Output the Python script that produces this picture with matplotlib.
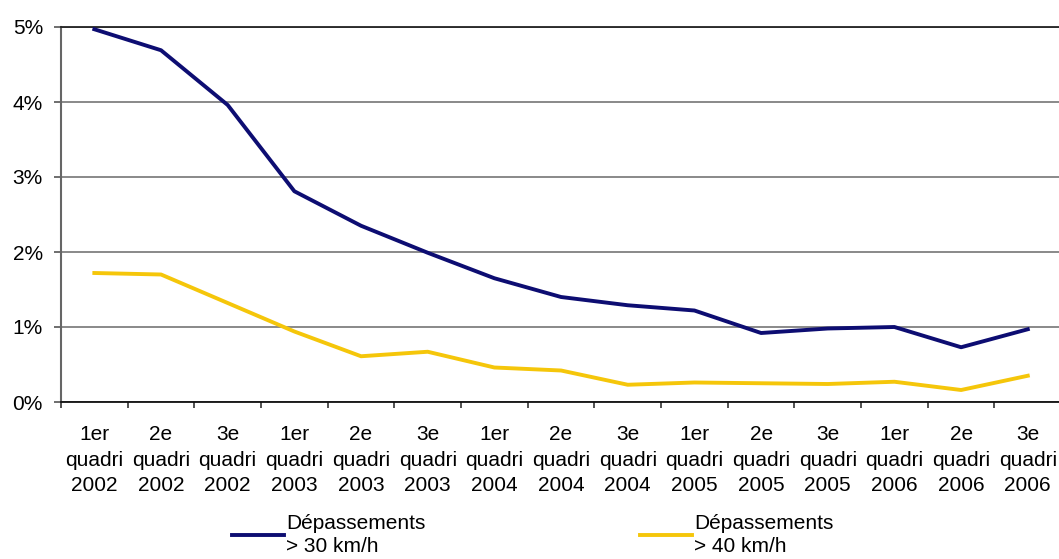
import matplotlib
matplotlib.use("Agg")
import matplotlib.pyplot as plt
from matplotlib.ticker import FixedLocator, FuncFormatter

plt.rcParams['font.family'] = ['Liberation Sans', 'DejaVu Sans']

categories = ["1er\nquadri\n2002", "2e\nquadri\n2002", "3e\nquadri\n2002",
              "1er\nquadri\n2003", "2e\nquadri\n2003", "3e\nquadri\n2003",
              "1er\nquadri\n2004", "2e\nquadri\n2004", "3e\nquadri\n2004",
              "1er\nquadri\n2005", "2e\nquadri\n2005", "3e\nquadri\n2005",
              "1er\nquadri\n2006", "2e\nquadri\n2006", "3e\nquadri\n2006"]
over30 = [4.97, 4.69, 3.96, 2.81, 2.35, 1.99, 1.65, 1.40, 1.29, 1.22, 0.92, 0.98, 1.00, 0.73, 0.97]
over40 = [1.72, 1.70, 1.32, 0.94, 0.61, 0.67, 0.46, 0.42, 0.23, 0.26, 0.25, 0.24, 0.27, 0.16, 0.35]
label30 = "Dépassements\n> 30 km/h"
label40 = "Dépassements\n> 40 km/h"

fig = plt.figure(figsize=(10.59, 5.59), dpi=100)
ax = fig.add_axes([61/1059, 1-402/559, 1 - 61/1059 + 0.002, (402-27)/559])

x = list(range(len(categories)))
ax.plot(x, over30, color="#0d0d72", lw=2.8, label=label30, solid_joinstyle='round', zorder=3)
ax.plot(x, over40, color="#f5c60a", lw=2.8, label=label40, solid_joinstyle='round', zorder=3)

ax.set_xlim(-0.5, len(categories) - 0.5)
ax.set_ylim(0, 5)

ax.set_yticks([0, 1, 2, 3, 4, 5])
ax.yaxis.set_major_formatter(FuncFormatter(lambda v, p: f"{int(round(v))}%"))
ax.yaxis.grid(True, color="#808080", lw=1.3, zorder=1)

ax.xaxis.set_major_locator(FixedLocator([i - 0.5 for i in range(len(categories) + 1)]))
ax.xaxis.set_major_formatter(FuncFormatter(lambda v, p: ""))
ax.xaxis.set_minor_locator(FixedLocator(x))
ax.set_xticklabels(categories, minor=True)
ax.tick_params(axis='x', which='major', length=4, width=1.2, color="#333333", direction='out')
ax.tick_params(axis='x', which='minor', length=0, pad=16.5, labelsize=15)
ax.tick_params(axis='y', length=5, width=1.2, color="#555555", pad=8, labelsize=15)

for t in ax.get_xticklabels(minor=True):
    t.set_linespacing(1.45)

ax.spines['right'].set_visible(False)
ax.spines['top'].set_color("#222222")
ax.spines['top'].set_linewidth(1.3)
ax.spines['left'].set_color("#666666")
ax.spines['left'].set_linewidth(1.5)
ax.spines['bottom'].set_color("#111111")
ax.spines['bottom'].set_linewidth(1.3)

leg = fig.legend(loc='center', bbox_to_anchor=(0.503, 0.043), ncol=2, frameon=False,
                 fontsize=15, handlelength=2.5, handletextpad=0.1, columnspacing=10.3)
for t in leg.get_texts():
    t.set_linespacing(1.3)

fig.savefig("out.png", dpi=100)
